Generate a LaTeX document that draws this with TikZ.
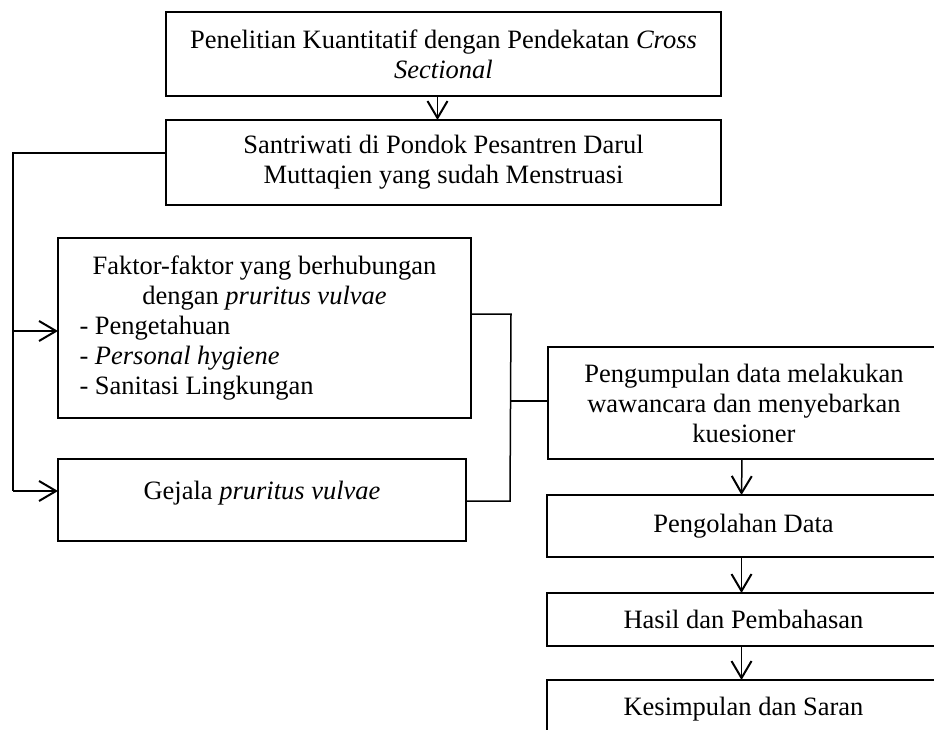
\documentclass[tikz,border=0pt]{standalone}
\usepackage{fontspec}
\setmainfont{Liberation Serif}
\usetikzlibrary{arrows.meta}
\begin{document}
\begin{tikzpicture}[x=1pt,y=-1pt,
  box/.style={draw, line width=2pt, inner sep=0pt, outer sep=0pt, anchor=north west, align=center, font=\fontsize{26.5}{30}\selectfont},
  conn/.style={line width=1.5pt},
  arr/.style={conn, -{Straight Barb[length=17pt,width=20pt,line width=2pt]}}]
\useasboundingbox (0,0) rectangle (934,729);
\clip (0,0) rectangle (934,729);

\node[box, minimum width=555pt, minimum height=84pt] (b1) at (166,12) {Penelitian Kuantitatif dengan Pendekatan \textit{Cross}\\\textit{Sectional}};
\node[box, minimum width=555pt, minimum height=85pt] (b2) at (166,120) {Santriwati di Pondok Pesantren Darul\\Muttaqien yang sudah Menstruasi};
\node[box, align=left, minimum width=413pt, minimum height=180pt] (b3) at (58,238) {\makebox[370pt]{Faktor-faktor yang berhubungan}\\\makebox[370pt]{dengan \textit{pruritus vulvae}}\\- Pengetahuan\\- \textit{Personal hygiene}\\- Sanitasi Lingkungan};
\node[box, minimum width=408pt, minimum height=82pt, text height=18pt, text depth=20pt] (b4) at (58,459) {Gejala \textit{pruritus vulvae}};
\node[box, minimum width=392pt, minimum height=112pt] (b5) at (548,347) {Pengumpulan data melakukan\\wawancara dan menyebarkan\\kuesioner};
\node[box, minimum width=393pt, minimum height=62pt] (b6) at (547,495) {Pengolahan Data};
\node[box, minimum width=393pt, minimum height=53pt] (b7) at (547,593) {Hasil dan Pembahasan};
\node[box, minimum width=393pt, minimum height=58pt] (b8) at (547,680) {Kesimpulan dan Saran};

\draw[arr] ([xshift=-6pt]b1.south) -- ([xshift=-6pt]b2.north);

\coordinate (lt) at (13,153);
\coordinate (lm) at (13,331);
\coordinate (lb) at (13,491);
\draw[conn] (b2.west|-lt) -- (lt) -- (lb);
\draw[arr] (lm) -- (b3.west|-lm);
\draw[arr] (lb) -- (b4.west|-lb);

\coordinate (rt) at (511,314);
\coordinate (rm) at (510,401);
\coordinate (rb) at (510,501);
\draw[conn] (b3.east|-rt) -- (rt) -- (rb) -- (b4.east|-rb);
\draw[conn] (rm) -- (b5.west|-rm);

\draw[arr] ([xshift=-2pt]b5.south) -- ([xshift=-2pt]b6.north);
\draw[arr] ([xshift=-2pt]b6.south) -- ([xshift=-2pt]b7.north);
\draw[arr] ([xshift=-2pt]b7.south) -- ([xshift=-2pt]b8.north);
\end{tikzpicture}
\end{document}
